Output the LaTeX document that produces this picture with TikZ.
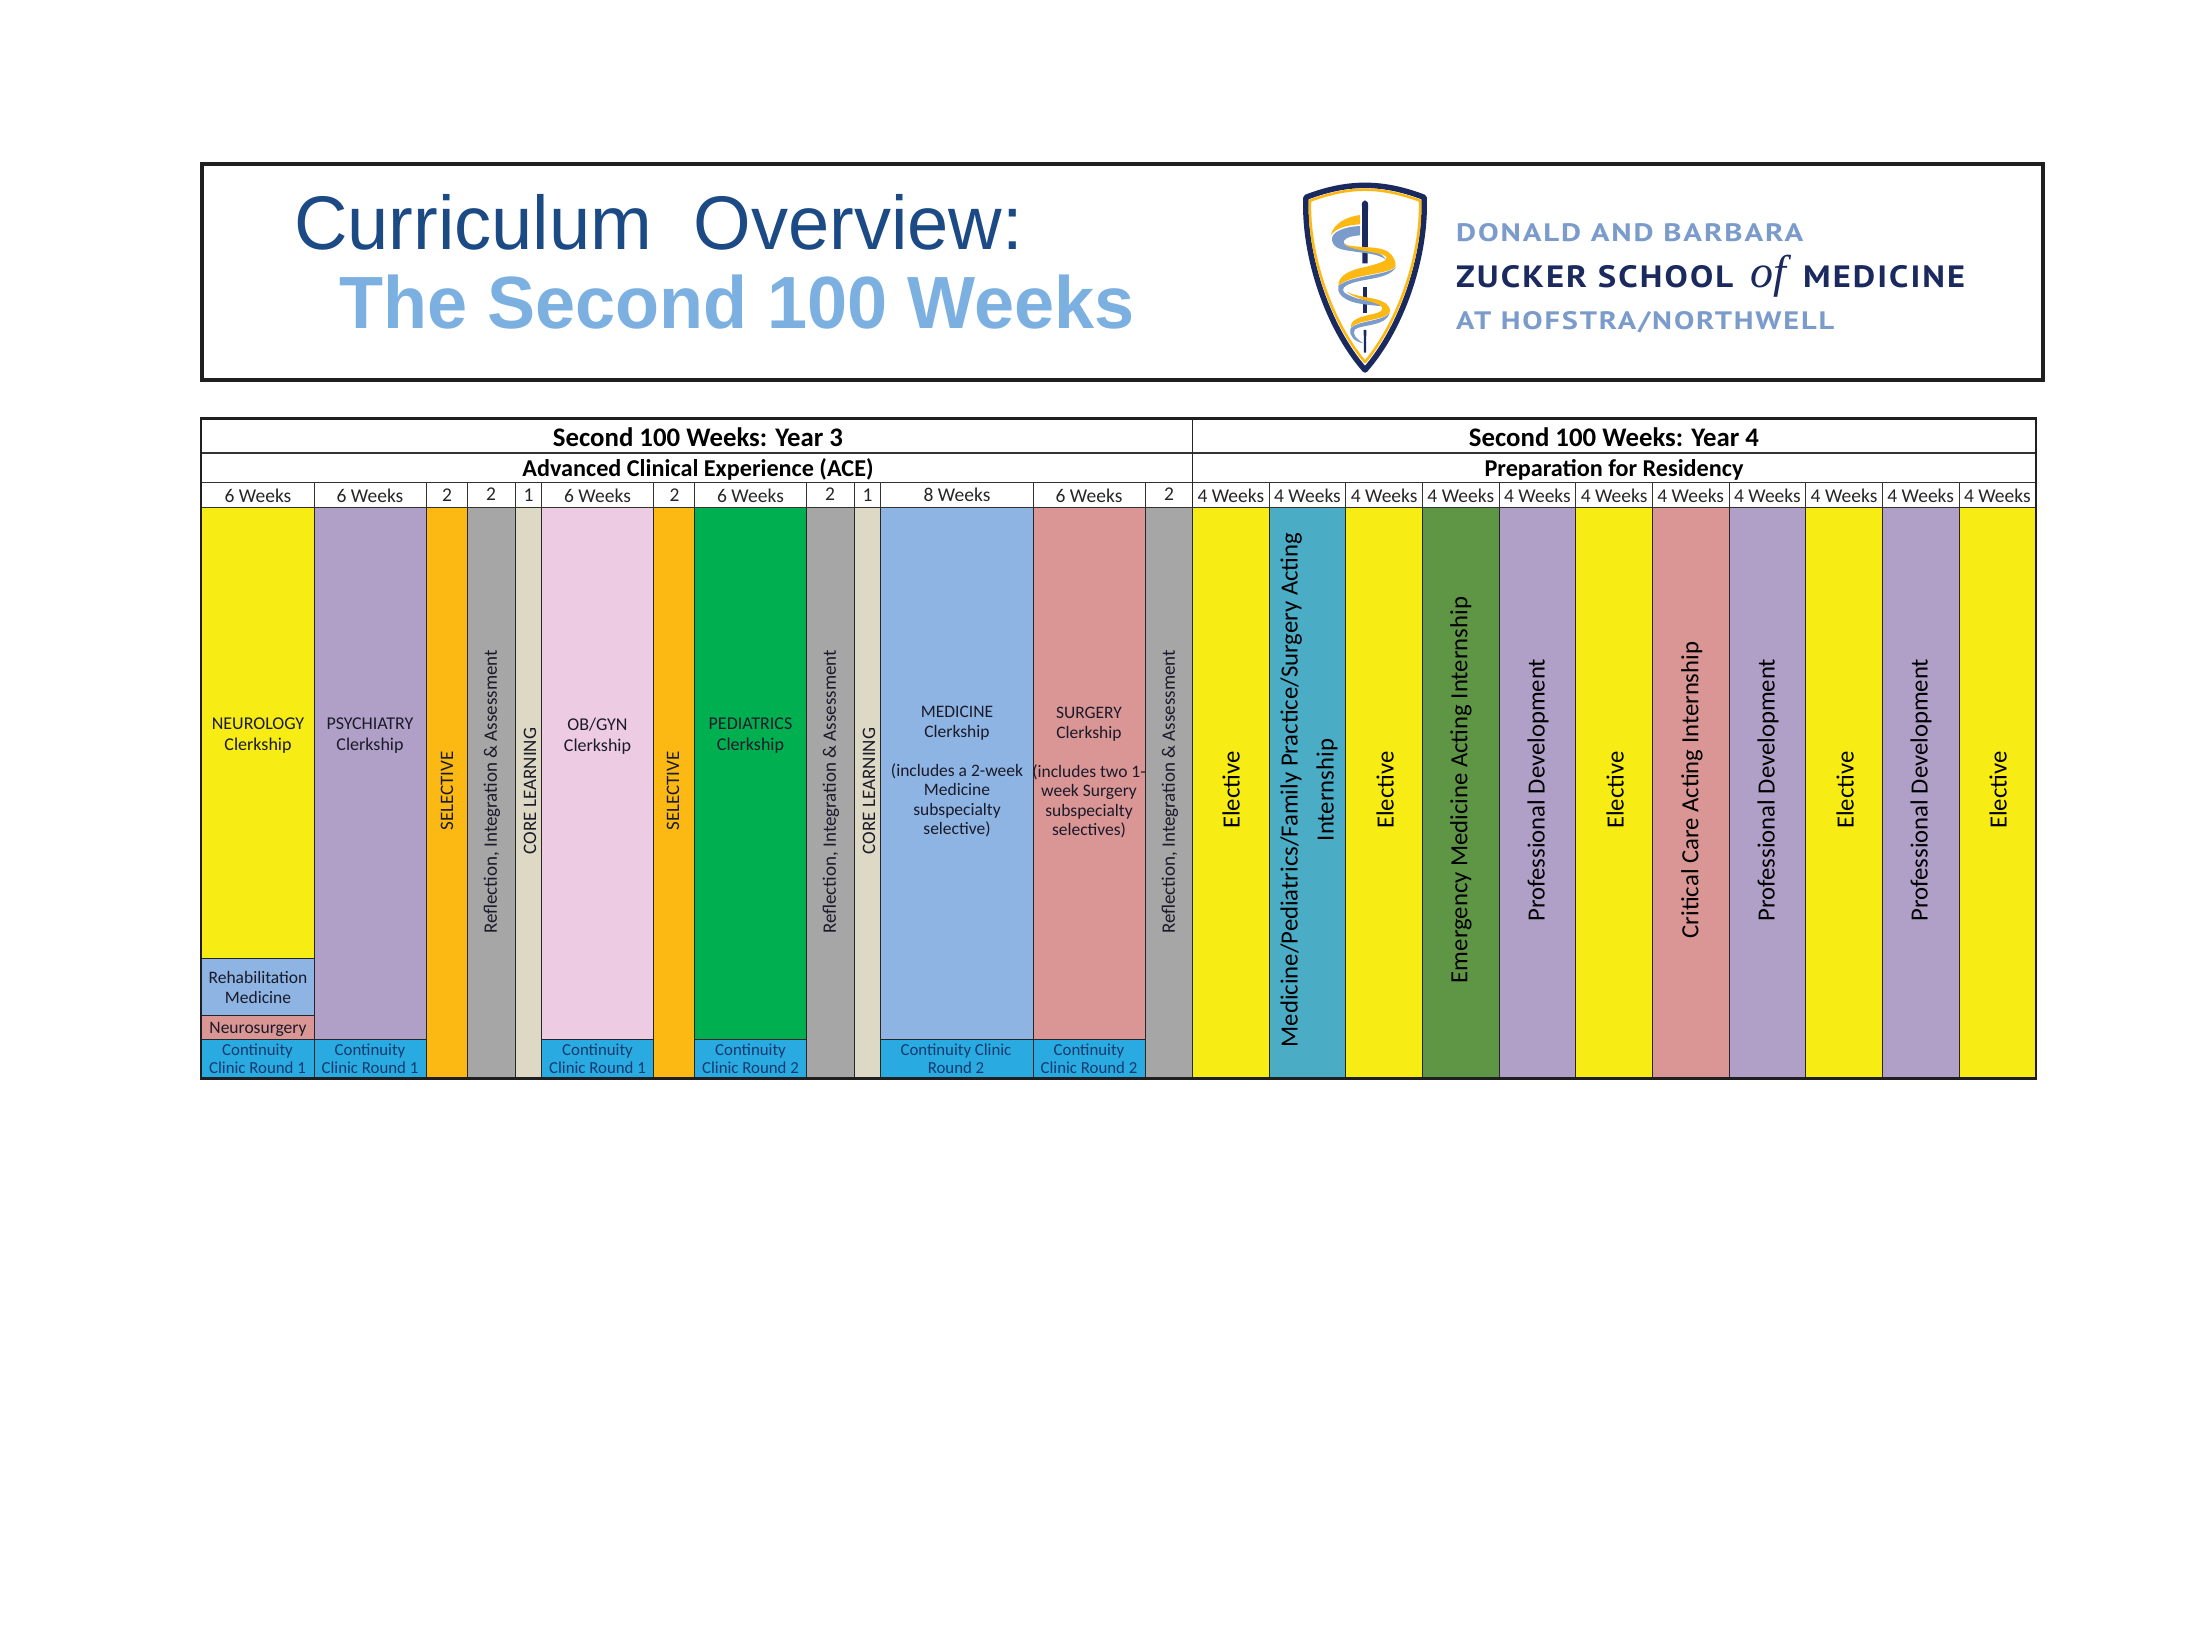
\documentclass[tikz,border=0pt]{standalone}
\usepackage{fontspec}
\setmainfont{Carlito}
\newfontfamily\ttlfont{Liberation Sans}
\newfontfamily\logofont[LetterSpace=6]{PT Sans}
\newfontfamily\offont{Liberation Serif}
\definecolor{cyel}{HTML}{F7EC13}
\definecolor{cpur}{HTML}{B0A0C8}
\definecolor{cora}{HTML}{FDB913}
\definecolor{cgry}{HTML}{A6A6A6}
\definecolor{cbei}{HTML}{DDD9C4}
\definecolor{cpnk}{HTML}{EDCBE3}
\definecolor{cgrn}{HTML}{00B050}
\definecolor{cblu}{HTML}{8DB4E2}
\definecolor{csal}{HTML}{DA9694}
\definecolor{ccya}{HTML}{29ABE2}
\definecolor{ctea}{HTML}{4BACC6}
\definecolor{cdgr}{HTML}{5F9645}
\definecolor{cnavy}{HTML}{1B2A5E}
\definecolor{ctitle}{HTML}{1C4A85}
\definecolor{ctitleb}{HTML}{7CB0E0}
\definecolor{clogob}{HTML}{7B9BCB}
\definecolor{ctxt}{HTML}{1A1A2A}
\definecolor{cclin}{HTML}{123A6E}
\tikzset{
  frame/.style={draw=black!88,line width=#1},
  cellfill/.style={draw=black!85,line width=0.9pt,fill=#1},
  hb/.style={inner sep=0pt,font=\fontsize{26.8}{30}\selectfont\bfseries,text=black},
  hc/.style={inner sep=0pt,font=\fontsize{24.2}{27}\selectfont\bfseries,text=black},
  wk/.style={inner sep=0pt,font=\fontsize{19.5}{22}\selectfont,text=black!85},
  sm/.style={inner sep=0pt,align=center,font=\fontsize{17.5}{19.5}\selectfont,text=ctxt},
  smh/.style={inner sep=0pt,align=center,font=\fontsize{18}{21}\selectfont,text=ctxt},
  cl/.style={inner sep=0pt,align=center,font=\fontsize{16.8}{18}\selectfont,text=cclin},
  vt/.style={inner sep=0pt,rotate=90,font=\fontsize{19}{21}\selectfont,text=ctxt},
  vb/.style={inner sep=0pt,rotate=90,align=center,font=\fontsize{24.7}{36}\selectfont,text=black},
  logot/.style={inner sep=0pt,anchor=west,font=\logofont\bfseries},
}
\begin{document}
\begin{tikzpicture}[x=1pt,y=-1pt]
\useasboundingbox (0,0) rectangle (2200,1643);
\fill[white] (0,0) rectangle (2200,1643);
% banner
\draw[frame=4pt] (202,164) rectangle (2043,380);
\node[inner sep=0pt,anchor=base west,text=ctitle,font=\ttlfont\fontsize{76}{80}\selectfont] (t1) at (294,249) {\scalebox{0.975}[1]{Curriculum\ \ Overview:}};
\node[inner sep=0pt,anchor=base west,text=ctitleb,font=\ttlfont\bfseries\fontsize{74}{80}\selectfont] (t2) at (339,328) {\scalebox{0.974}[1]{The Second 100 Weeks}};
% logo
\begin{scope}[shift={(1270,170)},x=0.3333pt,y=-0.3333pt]
\path[fill=white,draw=cnavy,line width=5.5pt,line join=round] (285,46) .. controls (220,46) and (160,62) .. (108,82) .. controls (100,250) and (170,470) .. (285,600) .. controls (400,470) and (470,250) .. (462,82) .. controls (410,62) and (350,46) .. (285,46) -- cycle;
\path[draw=cora,line width=2.6pt,line join=round] (285,59) .. controls (225,59) and (170,74) .. (120,92) .. controls (114,250) and (183,455) .. (285,576) .. controls (387,455) and (456,250) .. (450,92) .. controls (400,74) and (345,59) .. (285,59) -- cycle;
% rod
\fill[cnavy] (276,110) .. controls (272,85) and (298,85) .. (294,110) -- (294,120) -- (293,280) -- (277,280) -- (276,120) -- cycle;
\fill[cnavy] (279,350) -- (291,350) -- (291,430) -- (279,430) -- cycle;
\fill[cnavy] (281,480) -- (289,480) -- (288,548) -- (282,548) -- cycle;
% ribbons
\fill[clogob] (270,168) .. controls (225,170) and (183,185) .. (186,210) .. controls (190,240) and (225,240) .. (262,246) .. controls (290,250) and (325,252) .. (346,268) .. controls (340,250) and (305,240) .. (265,235) .. controls (235,230) and (215,222) .. (222,212) .. controls (230,200) and (250,198) .. (270,196) -- cycle;
\fill[cora] (270,135) .. controls (230,140) and (190,160) .. (182,197) .. controls (195,175) and (230,165) .. (270,163) -- cycle;
\fill[cora] (220,222) .. controls (262,238) and (340,222) .. (365,255) .. controls (378,272) and (378,285) .. (375,292) .. controls (345,315) and (245,312) .. (205,347) .. controls (205,315) and (240,300) .. (290,290) .. controls (320,282) and (350,275) .. (350,262) .. controls (340,245) and (250,245) .. (220,222) -- cycle;
\fill[clogob] (378,292) .. controls (350,335) and (255,322) .. (222,352) .. controls (212,365) and (225,372) .. (260,385) .. controls (300,395) and (345,395) .. (358,415) .. controls (340,405) and (285,408) .. (245,395) .. controls (215,385) and (200,365) .. (205,348) .. controls (245,315) and (345,318) .. (378,292) -- cycle;
\fill[cora] (230,365) .. controls (265,385) and (340,380) .. (356,410) .. controls (362,420) and (360,425) .. (358,430) .. controls (335,452) and (270,448) .. (243,472) .. controls (240,450) and (270,440) .. (310,432) .. controls (330,428) and (342,420) .. (335,410) .. controls (315,392) and (255,390) .. (230,365) -- cycle;
\fill[clogob] (359,430) .. controls (345,470) and (280,462) .. (255,478) .. controls (245,492) and (258,505) .. (280,520) .. controls (255,515) and (235,500) .. (242,474) .. controls (270,450) and (335,455) .. (359,430) -- cycle;
\end{scope}
\node[logot,text=clogob] (l1) at (1456,232.5) {\resizebox{347pt}{18pt}{DONALD AND BARBARA}};
\node[logot,text=cnavy,anchor=base west] (l2) at (1456,287) {\resizebox{277pt}{22pt}{ZUCKER SCHOOL}};
\node[inner sep=0pt,anchor=base,text=cnavy,font=\offont\itshape\fontsize{46}{48}\selectfont] (l3) at (1768,287) {of};
\node[logot,text=cnavy,anchor=base west] (l4) at (1803,287) {\resizebox{162pt}{22pt}{MEDICINE}};
\node[logot,text=clogob] (l5) at (1456,322.5) {\resizebox{378pt}{18pt}{AT HOFSTRA/NORTHWELL}};
% Year 3 fills
\path[cellfill=cyel] (201,507) rectangle (314,958);
\path[cellfill=cblu] (201,958) rectangle (314,1015);
\path[cellfill=csal] (201,1015) rectangle (314,1039);
\path[cellfill=ccya] (201,1039) rectangle (314,1078);
\path[cellfill=cpur] (314,507) rectangle (426,1039);
\path[cellfill=ccya] (314,1039) rectangle (426,1078);
\path[cellfill=cora] (426,507) rectangle (467,1078);
\path[cellfill=cgry] (467,507) rectangle (515,1078);
\path[cellfill=cbei] (515,507) rectangle (541,1078);
\path[cellfill=cpnk] (541,507) rectangle (653.5,1039);
\path[cellfill=ccya] (541,1039) rectangle (653.5,1078);
\path[cellfill=cora] (653.5,507) rectangle (694.5,1078);
\path[cellfill=cgrn] (694.5,507) rectangle (806.5,1039);
\path[cellfill=ccya] (694.5,1039) rectangle (806.5,1078);
\path[cellfill=cgry] (806.5,507) rectangle (854,1078);
\path[cellfill=cbei] (854,507) rectangle (880.5,1078);
\path[cellfill=cblu] (880.5,507) rectangle (1033,1039);
\path[cellfill=ccya] (880.5,1039) rectangle (1033,1078);
\path[cellfill=csal] (1033,507) rectangle (1145,1039);
\path[cellfill=ccya] (1033,1039) rectangle (1145,1078);
\path[cellfill=cgry] (1145,507) rectangle (1192.5,1078);
% Year 4 fills
\foreach \i/\c in {0/cyel,1/ctea,2/cyel,3/cdgr,4/cpur,5/cyel,6/csal,7/cpur,8/cyel,9/cpur,10/cyel}
  \path[cellfill=\c] ({1192.5+76.65*\i},507) rectangle ({1192.5+76.65*(\i+1)},1078);
% header rules
\draw[line width=1.6pt,black!80] (201,453) -- (2036,453);
\draw[line width=1.6pt,black!80] (201,482.5) -- (2036,482.5);
\draw[line width=1pt,black!80] (201,507) -- (2036,507);
\foreach \x in {314,426,467,515,541,653.5,694.5,806.5,854,880.5,1033,1145}
  \draw[line width=1pt,black!80] (\x,482.5) -- (\x,507);
\draw[line width=1.6pt,black!85] (1192.5,418.5) -- (1192.5,507);
\foreach \i in {1,...,10}
  \draw[line width=1pt,black!80] ({1192.5+76.65*\i},482.5) -- ({1192.5+76.65*\i},507);
% table frame
\draw[frame=2.8pt] (201,418.5) -- (2036,418.5) -- (2036,1078.5) -- (201,1078.5) -- cycle;
% headers
\node[hb] (y3) at (698,437) {Second 100 Weeks: Year 3};
\node[hb] (y4) at (1614,437) {Second 100 Weeks: Year 4};
\node[hc] (ace) at (698,469) {Advanced Clinical Experience (ACE)};
\node[hc] (pfr) at (1614,470) {Preparation for Residency};
% week labels
\node[wk] (w1) at (258,495.5) {6 Weeks};
\node[wk] (w2) at (370,495.5) {6 Weeks};
\node[wk] (w3) at (447,495.5) {2};
\node[wk] (w4) at (491,494.5) {2};
\node[wk] (w5) at (528.5,495.5) {1};
\node[wk] (w6) at (597.5,495.5) {6 Weeks};
\node[wk] (w7) at (674.5,495.5) {2};
\node[wk] (w8) at (750.5,495.5) {6 Weeks};
\node[wk] (w9) at (830,494.5) {2};
\node[wk] (w10) at (867.5,495.5) {1};
\node[wk] (w11) at (957,494.5) {8 Weeks};
\node[wk] (w12) at (1089,495.5) {6 Weeks};
\node[wk] (w13) at (1169,494.5) {2};
\foreach \i in {0,...,10}
  \node[wk] (wy\i) at ({1192.5+76.65*(\i+0.5)},495.5) {4 Weeks};
% Year 3 texts
\node[smh] (n1) at (258,736) {NEUROLOGY\\Clerkship};
\node[smh] (n2) at (370,736) {PSYCHIATRY\\Clerkship};
\node[smh] (n3) at (597.5,736) {OB/GYN\\Clerkship};
\node[smh] (n4) at (750.5,736) {PEDIATRICS\\Clerkship};
\node[sm] (n5) at (258,987.5) {Rehabilitation\\Medicine};
\node[sm] (n6) at (258,1029) {Neurosurgery};
\node[sm,anchor=north] (n7) at (957,706) {MEDICINE\\Clerkship\\~\\(includes a 2-week\\Medicine\\subspecialty\\selective)};
\node[sm,anchor=north] (n8) at (1089,707) {SURGERY\\Clerkship\\~\\(includes two 1-\\week Surgery\\subspecialty\\selectives)};
\node[cl] (c1) at (257.5,1059) {Continuity\\Clinic Round 1};
\node[cl] (c2) at (370,1059) {Continuity\\Clinic Round 1};
\node[cl] (c3) at (597.5,1059) {Continuity\\Clinic Round 1};
\node[cl] (c4) at (750.5,1059) {Continuity\\Clinic Round 2};
\node[cl] (c5) at (956,1059) {Continuity Clinic\\Round 2};
\node[cl] (c6) at (1089,1059) {Continuity\\Clinic Round 2};
% vertical labels Year 3
\node[vt] (v1) at (447,791) {SELECTIVE};
\node[vt] (v2) at (492,792) {Reflection, Integration \& Assessment};
\node[vt] (v3) at (530,791) {CORE LEARNING};
\node[vt] (v4) at (673,791) {SELECTIVE};
\node[vt] (v5) at (831,792) {Reflection, Integration \& Assessment};
\node[vt] (v6) at (869,791) {CORE LEARNING};
\node[vt] (v7) at (1170,792) {Reflection, Integration \& Assessment};
% vertical labels Year 4
\node[vb] (e1) at (1231,790) {Elective};
\node[vb] (e2) at (1309,790) {Medicine/Pediatrics/Family Practice/Surgery Acting\\Internship};
\node[vb] (e3) at (1385,790) {Elective};
\node[vb] (e4) at (1461,790) {Emergency Medicine Acting Internship};
\node[vb] (e5) at (1538,790) {Professional Development};
\node[vb] (e6) at (1615,790) {Elective};
\node[vb] (e7) at (1692,790) {Critical Care Acting Internship};
\node[vb] (e8) at (1768,790) {Professional Development};
\node[vb] (e9) at (1845,790) {Elective};
\node[vb] (e10) at (1921,790) {Professional Development};
\node[vb] (e11) at (1998,790) {Elective};
\end{tikzpicture}
\end{document}
